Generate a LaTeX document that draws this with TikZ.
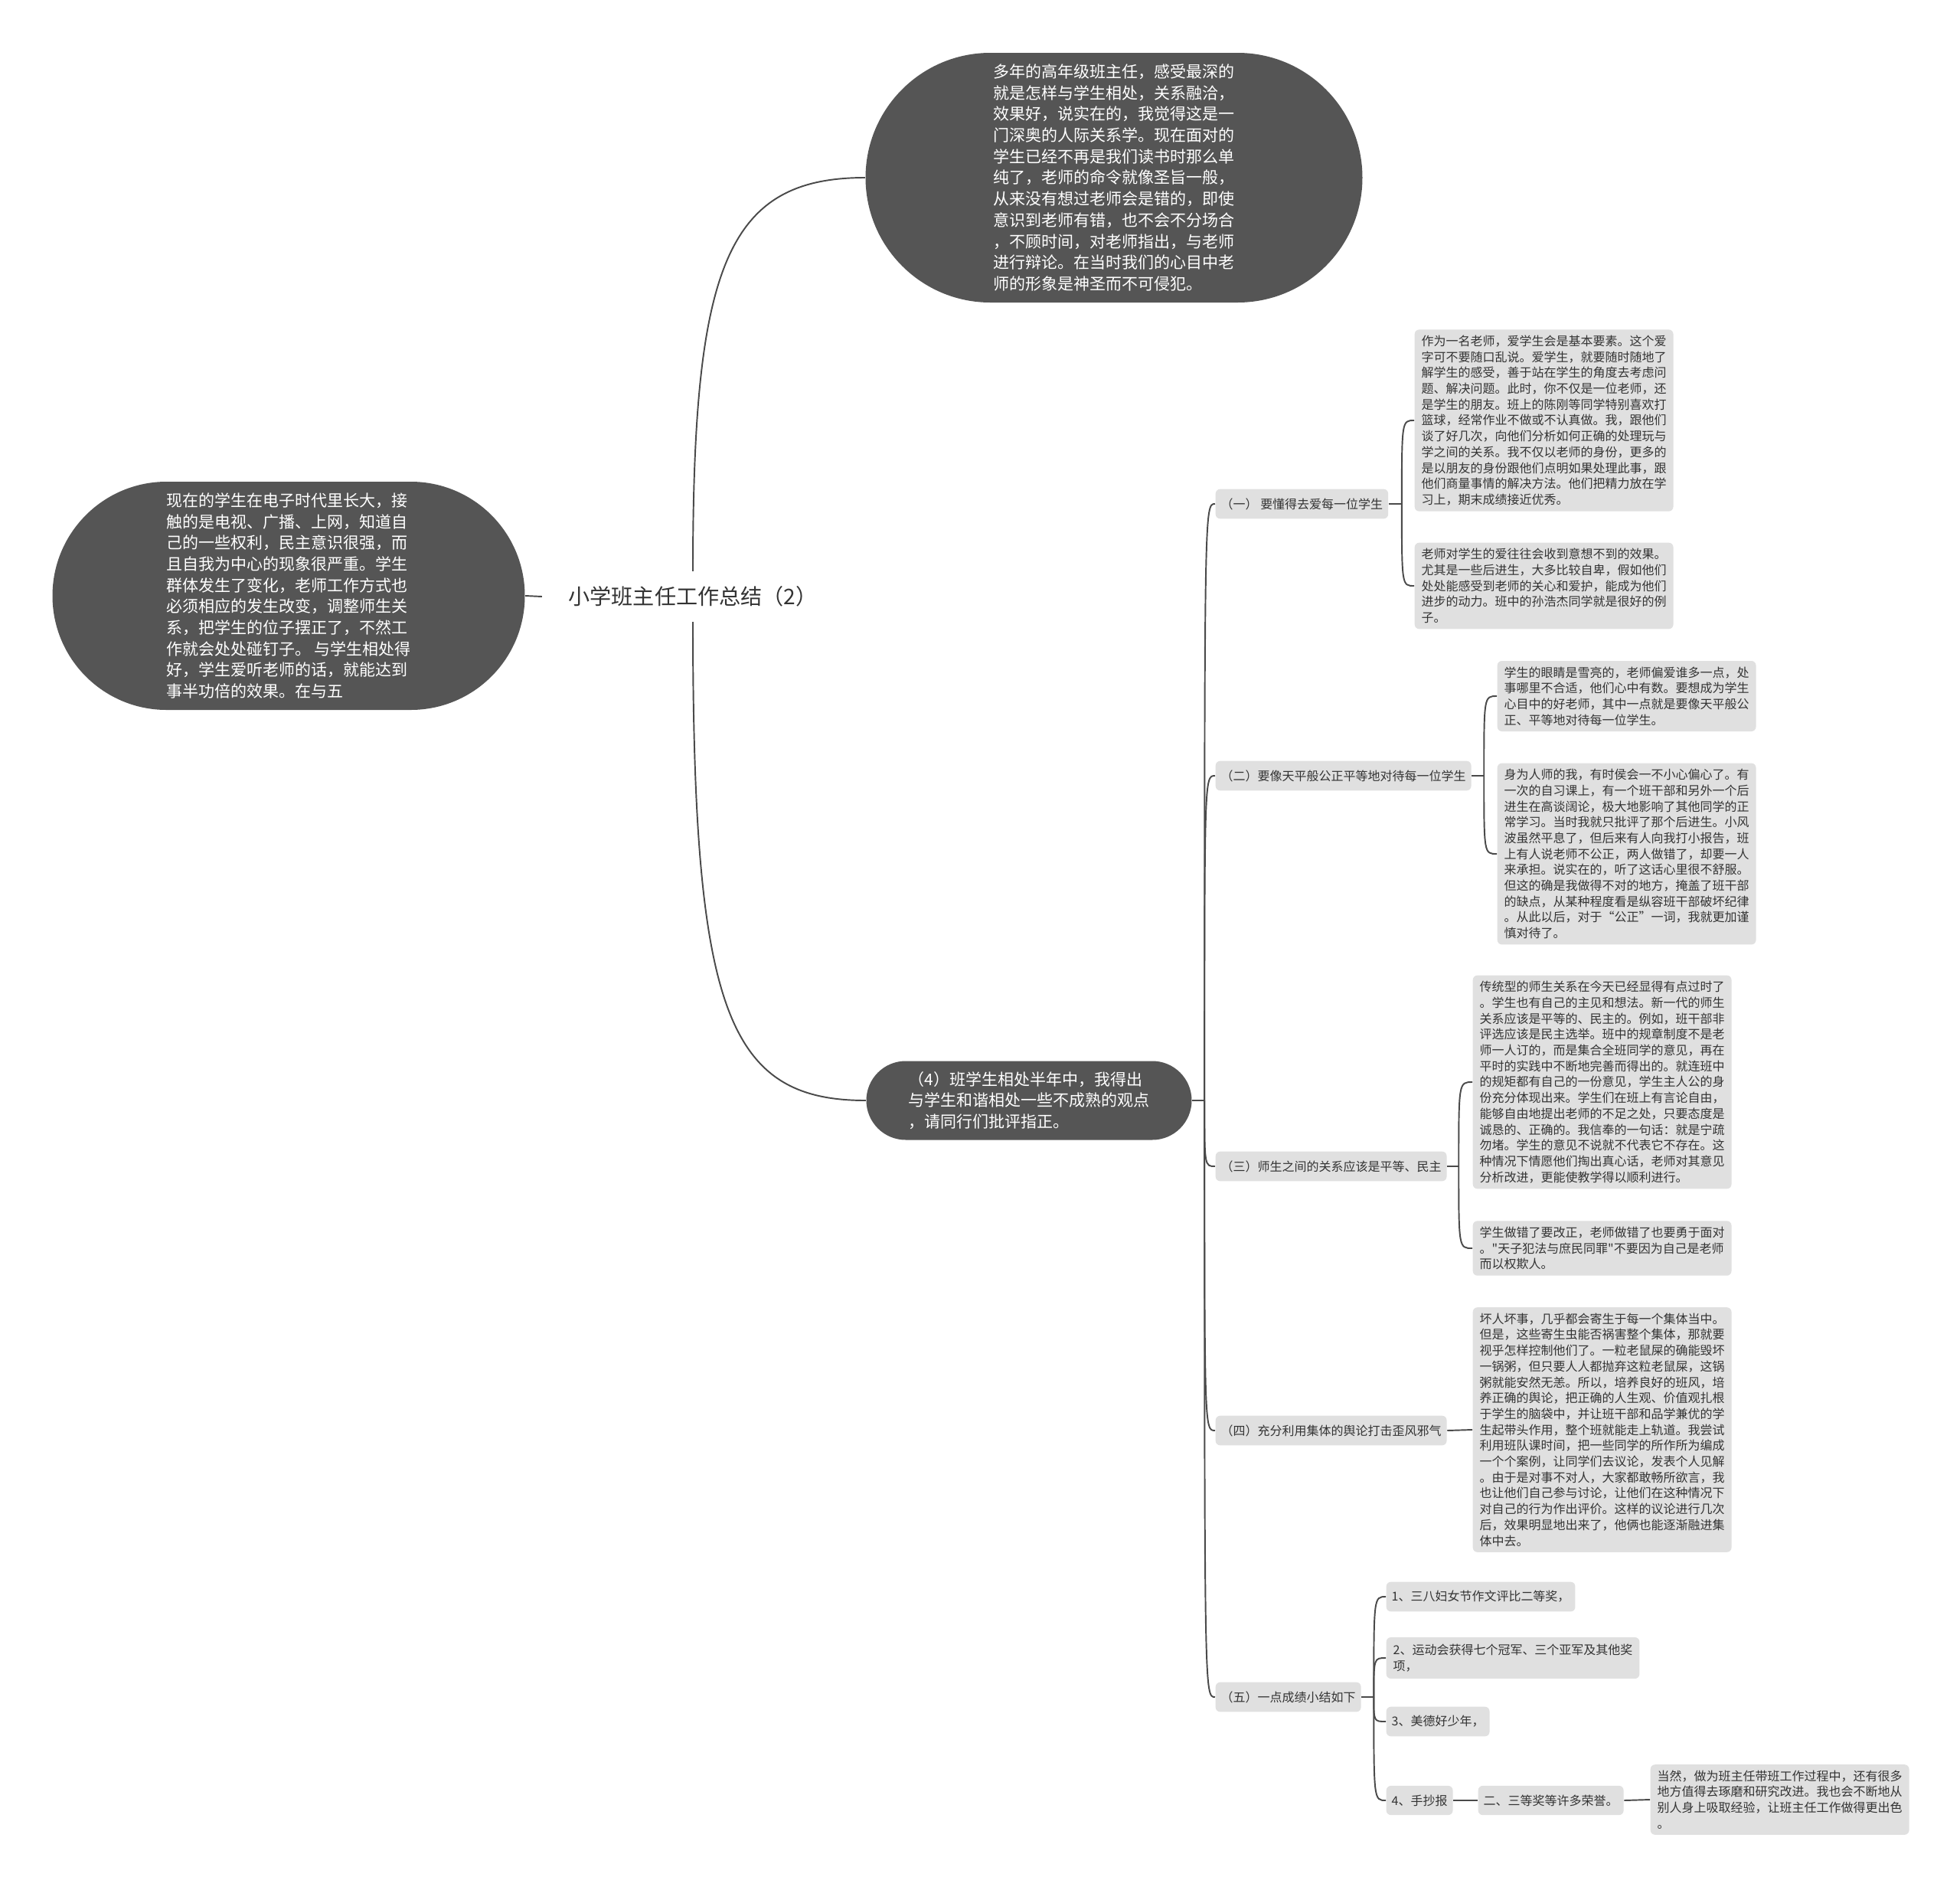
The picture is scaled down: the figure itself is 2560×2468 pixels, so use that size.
\documentclass[tikz,border=0pt]{standalone}
\usepackage{fontspec}
\setmainfont{Noto Sans CJK SC}[Ligatures=TeXOff]
\usetikzlibrary{shapes.misc}

\definecolor{darkfill}{HTML}{555555}
\definecolor{leaffill}{HTML}{E0E0E0}
\definecolor{linegray}{HTML}{4A4A4A}
\definecolor{textgray}{HTML}{333333}

\begin{document}
\begin{tikzpicture}[
  x=0.1mm, y=-0.1mm,
  bubble/.style={rounded rectangle, fill=darkfill, text=white, align=left, inner sep=0pt, font=\fontsize{5.97}{7.88}\selectfont},
  topic/.style={rectangle, rounded corners=0.6mm, fill=leaffill, text=textgray, anchor=west, inner xsep=0.7mm, minimum height=3.7mm, font=\fontsize{4.55}{5.89}\selectfont},
  leaf/.style={topic, align=left, inner xsep=0.9mm, inner ysep=0.75mm, minimum height=0pt},
  link/.style={draw=linegray, line width=0.55pt}
]

\fill[white] (0,0) rectangle (2560,2468);

% Nodes
\node[text=textgray, inner xsep=3.4mm, inner ysep=1.9mm, font=\fontsize{8.0}{9.5}\selectfont] (root) at (905,779) {小学班主任工作总结（2）};

\node[bubble, minimum width=64.9mm, minimum height=32.6mm] (past) at (1455,232) {多年的高年级班主任，感受最深的\\
就是怎样与学生相处，关系融洽，\\
效果好，说实在的，我觉得这是一\\
门深奥的人际关系学。现在面对的\\
学生已经不再是我们读书时那么单\\
纯了，老师的命令就像圣旨一般，\\
从来没有想过老师会是错的，即使\\
意识到老师有错，也不会不分场合\\
，不顾时间，对老师指出，与老师\\
进行辩论。在当时我们的心目中老\\
师的形象是神圣而不可侵犯。};

\node[bubble, minimum width=61.7mm, minimum height=29.8mm] (now) at (377,778) {现在的学生在电子时代里长大，接\\
触的是电视、广播、上网，知道自\\
己的一些权利，民主意识很强，而\\
且自我为中心的现象很严重。学生\\
群体发生了变化，老师工作方式也\\
必须相应的发生改变，调整师生关\\
系，把学生的位子摆正了，不然工\\
作就会处处碰钉子。 与学生相处得\\
好，学生爱听老师的话，就能达到\\
事半功倍的效果。在与五};

\node[bubble, minimum width=42.5mm, minimum height=10.3mm] (half) at (1344,1437) {（4）班学生相处半年中，我得出\\
与学生和谐相处一些不成熟的观点\\
，请同行们批评指正。};

\node[topic] (love) at (1587,658) {（一） 要懂得去爱每一位学生};
\node[topic] (fair) at (1587,1013) {（二）要像天平般公正平等地对待每一位学生};
\node[topic] (equal) at (1587,1523) {（三）师生之间的关系应该是平等、民主};
\node[topic] (group) at (1587,1868) {（四）充分利用集体的舆论打击歪风邪气};
\node[topic] (result) at (1587,2216) {（五）一点成绩小结如下};

\node[leaf] (love1) at (1847,549) {作为一名老师，爱学生会是基本要素。这个爱\\
字可不要随口乱说。爱学生，就要随时随地了\\
解学生的感受，善于站在学生的角度去考虑问\\
题、解决问题。此时，你不仅是一位老师，还\\
是学生的朋友。班上的陈刚等同学特别喜欢打\\
篮球，经常作业不做或不认真做。我，跟他们\\
谈了好几次，向他们分析如何正确的处理玩与\\
学之间的关系。我不仅以老师的身份，更多的\\
是以朋友的身份跟他们点明如果处理此事，跟\\
他们商量事情的解决方法。他们把精力放在学\\
习上，期末成绩接近优秀。};
\node[leaf] (love2) at (1847,765) {老师对学生的爱往往会收到意想不到的效果。\\
尤其是一些后进生，大多比较自卑，假如他们\\
处处能感受到老师的关心和爱护，能成为他们\\
进步的动力。班中的孙浩杰同学就是很好的例\\
子。};

\node[leaf] (fair1) at (1955,909) {学生的眼睛是雪亮的，老师偏爱谁多一点，处\\
事哪里不合适，他们心中有数。要想成为学生\\
心目中的好老师，其中一点就是要像天平般公\\
正、平等地对待每一位学生。};
\node[leaf] (fair2) at (1955,1115) {身为人师的我，有时侯会一不小心偏心了。有\\
一次的自习课上，有一个班干部和另外一个后\\
进生在高谈阔论，极大地影响了其他同学的正\\
常学习。当时我就只批评了那个后进生。小风\\
波虽然平息了，但后来有人向我打小报告，班\\
上有人说老师不公正，两人做错了，却要一人\\
来承担。说实在的，听了这话心里很不舒服。\\
但这的确是我做得不对的地方，掩盖了班干部\\
的缺点，从某种程度看是纵容班干部破坏纪律\\
。从此以后，对于“公正”一词，我就更加谨\\
慎对待了。};

\node[leaf] (equal1) at (1923,1413) {传统型的师生关系在今天已经显得有点过时了\\
。学生也有自己的主见和想法。新一代的师生\\
关系应该是平等的、民主的。例如，班干部非\\
评选应该是民主选举。班中的规章制度不是老\\
师一人订的，而是集合全班同学的意见，再在\\
平时的实践中不断地完善而得出的。就连班中\\
的规矩都有自己的一份意见，学生主人公的身\\
份充分体现出来。学生们在班上有言论自由，\\
能够自由地提出老师的不足之处，只要态度是\\
诚恳的、正确的。我信奉的一句话：就是宁疏\\
勿堵。学生的意见不说就不代表它不存在。这\\
种情况下情愿他们掏出真心话，老师对其意见\\
分析改进，更能使教学得以顺利进行。};
\node[leaf] (equal2) at (1923,1630) {学生做错了要改正，老师做错了也要勇于面对\\
。"天子犯法与庶民同罪"不要因为自己是老师\\
而以权欺人。};

\node[leaf] (group1) at (1923,1867) {坏人坏事，几乎都会寄生于每一个集体当中。\\
但是，这些寄生虫能否祸害整个集体，那就要\\
视乎怎样控制他们了。一粒老鼠屎的确能毁坏\\
一锅粥，但只要人人都抛弃这粒老鼠屎，这锅\\
粥就能安然无恙。所以，培养良好的班风，培\\
养正确的舆论，把正确的人生观、价值观扎根\\
于学生的脑袋中，并让班干部和品学兼优的学\\
生起带头作用，整个班就能走上轨道。我尝试\\
利用班队课时间，把一些同学的所作所为编成\\
一个个案例，让同学们去议论，发表个人见解\\
。由于是对事不对人，大家都敢畅所欲言，我\\
也让他们自己参与讨论，让他们在这种情况下\\
对自己的行为作出评价。这样的议论进行几次\\
后，效果明显地出来了，他俩也能逐渐融进集\\
体中去。};

\node[topic] (prize1) at (1810,2085) {1、三八妇女节作文评比二等奖，};
\node[leaf, inner ysep=0.9mm] (prize2) at (1810,2165) {2、运动会获得七个冠军、三个亚军及其他奖\\
项，};
\node[topic] (prize3) at (1810,2248) {3、美德好少年，};
\node[topic] (prize4) at (1810,2351) {4、手抄报};
\node[topic] (prize5) at (1930,2351) {二、三等奖等许多荣誉。};
\node[leaf] (prize6) at (2155,2350) {当然，做为班主任带班工作过程中，还有很多\\
地方值得去琢磨和研究改进。我也会不断地从\\
别人身上吸取经验，让班主任工作做得更出色\\
。};

% Junctions
\coordinate (j0) at ([xshift=1.6mm]half.east);
\coordinate (j1) at ([xshift=1.7mm]love.east);
\coordinate (j2) at ([xshift=1.6mm]fair.east);
\coordinate (j3) at ([xshift=1.5mm]equal.east);
\coordinate (j5) at ([xshift=1.6mm]result.east);

% Edges
\draw[link] (now.east) -- (root.west);
\draw[link] (root.north) .. controls +(0,-397) and +(-181,0) .. (past.west);
\draw[link] (root.south) .. controls +(0,505) and +(-182,0) .. (half.west);

\draw[link] (half.east) -- (j0);
\foreach \t in {love,fair,equal,group,result}
  \draw[link] (j0) .. controls (j0 |- \t.west) .. (\t.west);

\draw[link] (love.east) -- (j1);
\foreach \t in {love1,love2}
  \draw[link] (j1) .. controls (j1 |- \t.west) .. (\t.west);

\draw[link] (fair.east) -- (j2);
\foreach \t in {fair1,fair2}
  \draw[link] (j2) .. controls (j2 |- \t.west) .. (\t.west);

\draw[link] (equal.east) -- (j3);
\foreach \t in {equal1,equal2}
  \draw[link] (j3) .. controls (j3 |- \t.west) .. (\t.west);

\draw[link] (group.east) -- (group1.west);

\draw[link] (result.east) -- (j5);
\foreach \t in {prize1,prize2,prize3,prize4}
  \draw[link] (j5) .. controls (j5 |- \t.west) .. (\t.west);
\draw[link] (prize4.east) -- (prize5.west);
\draw[link] (prize5.east) -- (prize6.west);
\end{tikzpicture}
\end{document}
